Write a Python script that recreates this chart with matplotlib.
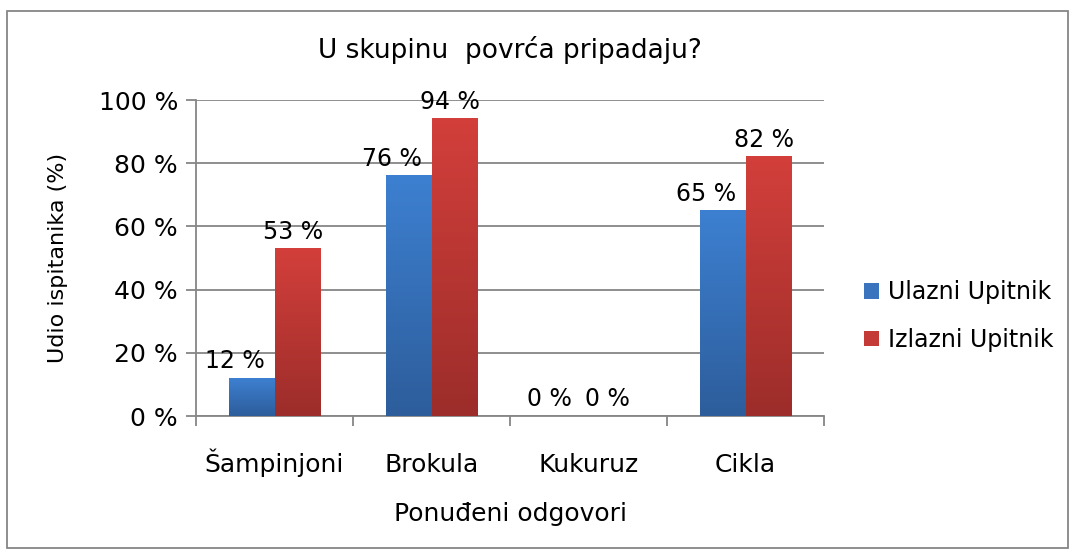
import matplotlib
matplotlib.use("Agg")
import matplotlib.pyplot as plt
import numpy as np
from matplotlib.colors import LinearSegmentedColormap
from matplotlib.patches import Rectangle

categories = ["Šampinjoni", "Brokula", "Kukuruz", "Cikla"]
ulazni = [12, 76, 0, 65]
izlazni = [53, 94, 0, 82]
series_names = ["Ulazni Upitnik", "Izlazni Upitnik"]
yticks = [0, 20, 40, 60, 80, 100]

plt.rcParams['font.family'] = ['DejaVu Sans']
FS = 18

fig = plt.figure(figsize=(10.76, 5.53), dpi=100)
ax = fig.add_axes([196/1076, 1-416/553, (824-196)/1076, (416-100)/553])

x = np.arange(len(categories))
w = 0.287
blue_cm = LinearSegmentedColormap.from_list("b", ["#2d5d9b", "#3d80d1"])
red_cm = LinearSegmentedColormap.from_list("r", ["#9c2d2a", "#d33f3b"])

b1 = ax.bar(x - w/2, ulazni, w, color="#3a74bf", label=series_names[0], zorder=2)
b2 = ax.bar(x + w/2, izlazni, w, color="#c33a36", label=series_names[1], zorder=2)

grad = np.linspace(0, 1, 256).reshape(-1, 1)
for bars, cm in ((b1, blue_cm), (b2, red_cm)):
    for p in bars:
        h = p.get_height()
        if h <= 0:
            continue
        x0 = p.get_x()
        ax.imshow(grad, cmap=cm, origin="lower", aspect="auto",
                  extent=(x0, x0 + p.get_width(), 0, h), zorder=3)

# data labels (Excel nudges them slightly to the left)
for bars, vals, dx in ((b1, ulazni, -0.108), (b2, izlazni, -0.025)):
    for p, v in zip(bars, vals):
        ax.text(p.get_x() + p.get_width()/2 + dx, v + 1.5, f"{v} %",
                ha="center", va="bottom", fontsize=17, zorder=4)

ax.set_xlim(-0.5, len(categories) - 0.5)
ax.set_ylim(0, 100)
ax.set_yticks(yticks)
ax.set_yticklabels([f"{t} %" for t in yticks], fontsize=FS)
ax.set_xticks(x)
ax.set_xticklabels(categories, fontsize=FS)
for lab in ax.get_xticklabels():
    lab.set_verticalalignment("baseline")
ax.set_xticks(np.arange(-0.5, len(categories)), minor=True)
ax.tick_params(axis="x", which="major", length=0, pad=40)
ax.tick_params(axis="x", which="minor", length=7, color="#868686", width=1.3)
ax.tick_params(axis="y", length=7, color="#868686", width=1.3, pad=6)
ax.grid(axis="y", color="#868686", linewidth=1.3, zorder=0)
ax.set_axisbelow(True)
for s in ("top", "right"):
    ax.spines[s].set_visible(False)
for s in ("left", "bottom"):
    ax.spines[s].set_color("#868686")
    ax.spines[s].set_linewidth(1.3)

ax.set_title("U skupinu  povrća pripadaju?", fontsize=19, pad=30)
ax.set_ylabel("Udio ispitanika (%)", fontsize=16, labelpad=22)
ax.set_xlabel("Ponuđeni odgovori", fontsize=FS, labelpad=18)

leg = fig.legend(handles=[b1, b2], labels=series_names, loc="center left",
                 bbox_to_anchor=(864/1076, 1-316/553), frameon=False,
                 fontsize=17, handlelength=0.65, handleheight=0.65,
                 labelspacing=1.0, handletextpad=0.35, borderpad=0,
                 borderaxespad=0)

fig.patches.append(Rectangle((7/1076, 1-548/553), (1068-7)/1076, (548-11)/553,
                             transform=fig.transFigure, fill=False,
                             edgecolor="#868686", linewidth=1.3))

fig.savefig("out.png", dpi=100)
